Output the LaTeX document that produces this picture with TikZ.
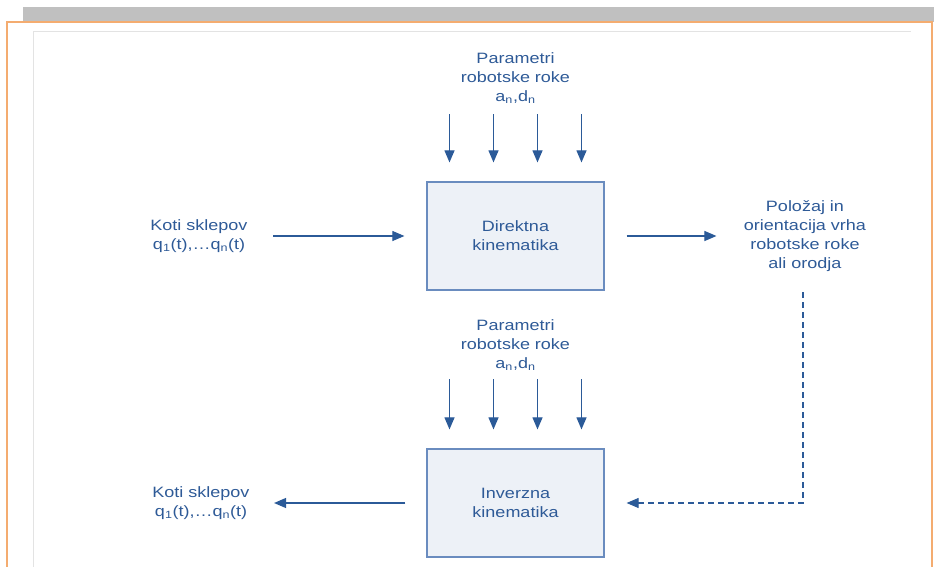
\documentclass[tikz,border=0pt]{standalone}
\usepackage{fontspec}
\usepackage{xcolor}
\usepackage{tikz}
\usetikzlibrary{arrows.meta, positioning}

\newfontfamily\diagfont{Liberation Sans}[FakeStretch=1.2]

\definecolor{txtblue}{HTML}{2E5A97}
\definecolor{arrblue}{HTML}{2B5A98}
\definecolor{boxfill}{HTML}{EDF1F7}
\definecolor{boxline}{HTML}{6A8CBF}
\definecolor{frameor}{HTML}{F4AC70}
\definecolor{bandgray}{HTML}{C0C0C0}
\definecolor{rulegray}{HTML}{E3E3E3}

\begin{document}
\begin{tikzpicture}[
  x=1pt, y=-1pt,
  lbl/.style={align=center, text=txtblue, font=\diagfont\fontsize{15}{19}\selectfont},
  blok/.style={draw=boxline, line width=1.2pt, fill=boxfill, minimum width=177pt,
    minimum height=108pt, align=center, text=txtblue,
    font=\diagfont\fontsize{15}{19}\selectfont},
  arr/.style={-{Triangle[length=12pt, width=10pt]}, draw=arrblue, line width=1.1pt},
  arrdash/.style={arr, dash pattern=on 6pt off 4pt}
]
\useasboundingbox (0,0) rectangle (934,567);

% slide frame
\fill[bandgray] (23,7) rectangle (934,22);
\draw[frameor, line width=1.6pt] (7,567) -- (7,22) -- (932,22) -- (932,567);
\draw[rulegray, line width=0.8pt] (33,567) -- (33,31) -- (911,31);

% blocks
\node[blok] (dk) at (515.5,236) {Direktna\\kinematika};
\node[blok] (ik) at (515.5,503) {Inverzna\\kinematika};

% labels
\node[lbl] (par1) at (515.5,78) {Parametri\\robotske roke\\a\textsubscript{n},d\textsubscript{n}};
\node[lbl] (par2) at (515.5,345) {Parametri\\robotske roke\\a\textsubscript{n},d\textsubscript{n}};
\node[lbl] (kot1) at (199,236) {Koti sklepov\\q\textsubscript{1}(t),\ldots q\textsubscript{n}(t)};
\node[lbl] (kot2) at (201,503) {Koti sklepov\\q\textsubscript{1}(t),\ldots q\textsubscript{n}(t)};
\node[lbl] (pol) at (805,236) {Položaj in\\orientacija vrha\\robotske roke\\ali orodja};

% parameter inputs
\foreach \dx in {-66,-22,22,66} {
  \draw[arr] ([xshift=\dx pt, yshift=-7pt]par1.south) -- ([xshift=\dx pt, yshift=19pt]dk.north);
  \draw[arr] ([xshift=\dx pt, yshift=-5pt]par2.south) -- ([xshift=\dx pt, yshift=19pt]ik.north);
}

% signal flow
\draw[arr] ([xshift=22pt]kot1.east) -- ([xshift=-22pt]dk.west);
\draw[arr] ([xshift=22pt]dk.east) -- ([xshift=-24pt]pol.west);
\draw[arrdash] ([xshift=-2pt, yshift=-17pt]pol.south) |- ([xshift=22pt]ik.east);
\draw[arr] ([xshift=-21pt]ik.west) -- ([xshift=21pt]kot2.east);
\end{tikzpicture}
\end{document}
